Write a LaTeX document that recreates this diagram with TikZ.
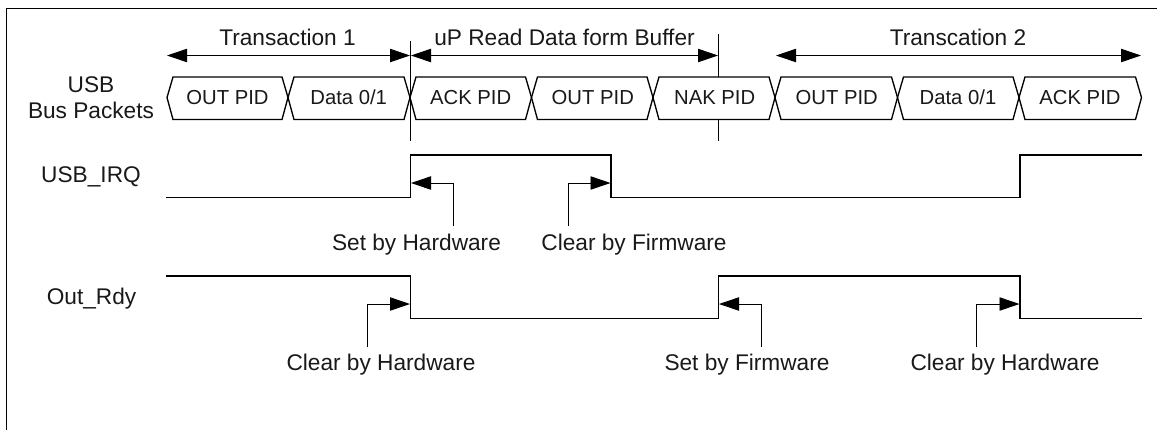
\documentclass[tikz,border=0pt]{standalone}
\usepackage{fontspec}
\setmainfont{Liberation Sans}
\usetikzlibrary{arrows.meta}
\tikzset{
  x=0.75pt,y=-0.75pt,
  lbl/.style={anchor=base,inner sep=0pt,font=\fontsize{17}{20}\selectfont,text=black!90},
  plbl/.style={anchor=base,inner sep=0pt,font=\fontsize{15.2}{18}\selectfont,text=black!90},
  hdr/.style={anchor=base,inner sep=0pt,font=\fontsize{17}{20}\selectfont,text=black!90},
  wave/.style={draw=black,line width=1.2pt,line join=miter},
  pktline/.style={draw=black,line width=1pt,line join=miter},
  thinline/.style={draw=black,line width=0.7pt},
  tip/.style={thinline,-{Triangle[length=15pt,width=10pt]}},
  both/.style={thinline,{Triangle[length=15pt,width=10pt]}-{Triangle[length=15pt,width=10pt]},shorten <=0pt,shorten >=0pt},
}
% left crossing, right crossing, label centre, name, text
\newcommand{\pkt}[5]{%
  \draw[pktline] (#1,97.5) -- (#1+6,77) -- (#2-6,77) -- (#2,97.5) -- (#2-6,119.5) -- (#1+6,119.5) -- cycle;
  \node[plbl] (#4) at (#3,104) {#5};
}
\begin{document}
\begin{tikzpicture}
\useasboundingbox (0,0) rectangle (1157,430);
\fill[white] (0,0) rectangle (1157,430);
% frame
\coordinate (fa) at (6.5,430);
\coordinate (fb) at (6.5,8.5);
\coordinate (fc) at (1157,8.5);
\draw[line width=0.9pt] (fa) -- (fb) -- (fc);
% headers
\node[hdr] (t1) at (287.5,45) {Transaction 1};
\node[hdr] (t0) at (564.5,45) {uP Read Data form Buffer};
\node[hdr] (t2) at (958,45) {Transcation 2};
% boundary markers
\coordinate (m1a) at (410.5,41);
\coordinate (m1b) at (410.5,141);
\coordinate (m2a) at (718.5,34);
\coordinate (m2b) at (718.5,77);
\coordinate (m2c) at (718.5,119.5);
\coordinate (m2d) at (718.5,141);
\draw[thinline] (m1a) -- (m1b);
\draw[thinline] (m2a) -- (m2b);
\draw[thinline] (m2c) -- (m2d);
% span arrows
\coordinate (s1a) at (167,55.5);
\coordinate (s1b) at (410,55.5);
\coordinate (s2a) at (411,55.5);
\coordinate (s2b) at (718,55.5);
\coordinate (s3a) at (776,55.5);
\coordinate (s3b) at (1141,55.5);
\draw[both] (s1a) -- (s1b);
\draw[both] (s2a) -- (s2b);
\draw[both] (s3a) -- (s3b);
% row labels
\node[lbl] (usb) at (91,92) {USB};
\node[lbl] (bus) at (91,118) {Bus Packets};
\node[lbl] (irq) at (91,182) {USB\_IRQ};
\node[lbl] (rdy) at (91.5,304) {Out\_Rdy};
% packets
\pkt{167}{288}{227.5}{p1}{OUT PID}
\pkt{288}{410}{348.7}{p2}{Data 0/1}
\pkt{410}{531.5}{470.7}{p3}{ACK PID}
\pkt{531.5}{653}{592.8}{p4}{OUT PID}
\pkt{653}{775}{714.7}{p5}{NAK PID}
\pkt{775}{897.5}{836.7}{p6}{OUT PID}
\pkt{897.5}{1019}{958}{p7}{Data 0/1}
\pkt{1019}{1141.5}{1080}{p8}{ACK PID}
% USB_IRQ wave
\coordinate (a0) at (166,197.5);
\coordinate (a1) at (410.5,197.5);
\coordinate (a2) at (410.5,155);
\coordinate (a3) at (611,155);
\coordinate (a4) at (611,197.5);
\coordinate (a5) at (1020,197.5);
\coordinate (a6) at (1020,155);
\coordinate (a7) at (1142,155);
\draw[wave] (a0) -- (a1) -- (a2) -- (a3) -- (a4) -- (a5) -- (a6) -- (a7);
% Out_Rdy wave
\coordinate (b0) at (166,276);
\coordinate (b1) at (410.5,276);
\coordinate (b2) at (410.5,318.5);
\coordinate (b3) at (718.5,318.5);
\coordinate (b4) at (718.5,276);
\coordinate (b5) at (1020,276);
\coordinate (b6) at (1020,318.5);
\coordinate (b7) at (1142,318.5);
\draw[wave] (b0) -- (b1) -- (b2) -- (b3) -- (b4) -- (b5) -- (b6) -- (b7);
% annotations
\node[lbl] (n1) at (416.5,250.7) {Set by Hardware};
\node[lbl] (n2) at (634,250.7) {Clear by Firmware};
\node[lbl] (n3) at (381,370.7) {Clear by Hardware};
\node[lbl] (n4) at (747,370.7) {Set by Firmware};
\node[lbl] (n5) at (1005,370.7) {Clear by Hardware};
\coordinate (c1) at (453.5,226);
\coordinate (c1e) at (453.5,183);
\coordinate (c1t) at (411,183);
\draw[tip] (c1) -- (c1e) -- (c1t);
\coordinate (c2) at (568,226);
\coordinate (c2e) at (568,183);
\coordinate (c2t) at (610.5,183);
\draw[tip] (c2) -- (c2e) -- (c2t);
\coordinate (c3) at (367.5,347);
\coordinate (c3e) at (367.5,304);
\coordinate (c3t) at (410,304);
\draw[tip] (c3) -- (c3e) -- (c3t);
\coordinate (c4) at (761.5,347);
\coordinate (c4e) at (761.5,304);
\coordinate (c4t) at (719,304);
\draw[tip] (c4) -- (c4e) -- (c4t);
\coordinate (c5) at (976.5,347);
\coordinate (c5e) at (976.5,304);
\coordinate (c5t) at (1019.5,304);
\draw[tip] (c5) -- (c5e) -- (c5t);
\end{tikzpicture}
\end{document}
